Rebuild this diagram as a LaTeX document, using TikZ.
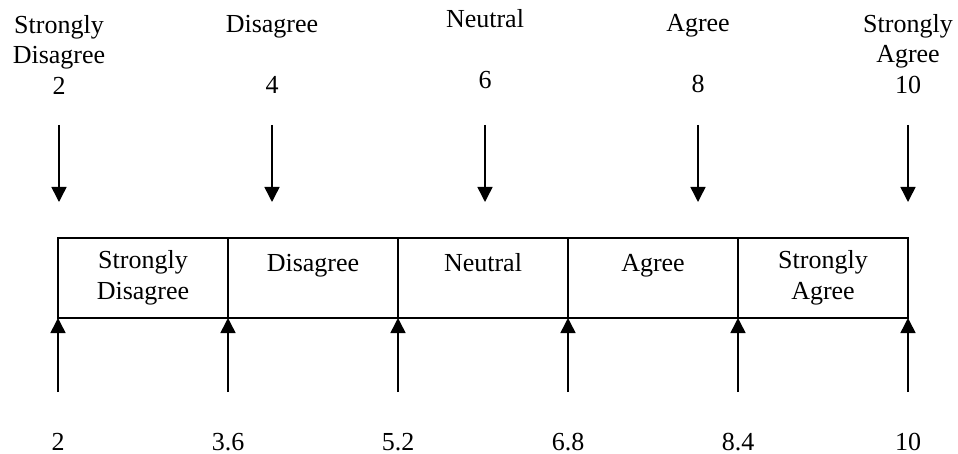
\documentclass[tikz,border=0pt]{standalone}
\usepackage{fontspec}
\setmainfont{Liberation Serif}
\usetikzlibrary{arrows.meta}

\begin{document}
\begin{tikzpicture}[x=1pt,y=1pt,
  lbl/.style={align=center,inner sep=0pt,font=\fontsize{26}{30.5}\selectfont},
  cell/.style={lbl,draw,line width=1.6pt,outer sep=0pt,minimum width=170pt,minimum height=80pt,anchor=north west},
  arr/.style={line width=1.5pt,-{Triangle[width=15pt,length=15pt]}}]
\useasboundingbox (0,0) rectangle (958,-454);
% labels above the arrows
\node[lbl,anchor=north] (t1) at (59,-15) {Strongly\\Disagree\\2};
\node[lbl,anchor=north] (t2) at (272,-15) {Disagree\\~\\4};
\node[lbl,anchor=north] (t3) at (485,-9) {Neutral\\~\\6};
\node[lbl,anchor=north] (t4) at (698,-14) {Agree\\~\\8};
\node[lbl,anchor=north] (t5) at (908,-14) {Strongly\\Agree\\10};
% arrows down to the scale
\coordinate (d1) at (59,-125); \coordinate (e1) at (59,-202);
\coordinate (d2) at (272,-125); \coordinate (e2) at (272,-202);
\coordinate (d3) at (485,-125); \coordinate (e3) at (485,-202);
\coordinate (d4) at (698,-125); \coordinate (e4) at (698,-202);
\coordinate (d5) at (908,-125); \coordinate (e5) at (908,-202);
\draw[arr] (d1) -- (e1);
\draw[arr] (d2) -- (e2);
\draw[arr] (d3) -- (e3);
\draw[arr] (d4) -- (e4);
\draw[arr] (d5) -- (e5);
% the scale
\node[cell] (c1) at (58,-238) {Strongly\\Disagree};
\node[cell] (c2) at (228,-238) {Disagree\\~};
\node[cell] (c3) at (398,-238) {Neutral\\~};
\node[cell] (c4) at (568,-238) {Agree\\~};
\node[cell] (c5) at (738,-238) {Strongly\\Agree};
% arrows up to the cell borders
\coordinate (u1) at (58,-392);
\coordinate (u2) at (228,-392);
\coordinate (u3) at (398,-392);
\coordinate (u4) at (568,-392);
\coordinate (u5) at (738,-392);
\coordinate (u6) at (908,-392);
\draw[arr] (u1) -- (c1.south west);
\draw[arr] (u2) -- (c2.south west);
\draw[arr] (u3) -- (c3.south west);
\draw[arr] (u4) -- (c4.south west);
\draw[arr] (u5) -- (c5.south west);
\draw[arr] (u6) -- (c5.south east);
% values below
\node[lbl,anchor=base] (v1) at (58,-450) {2};
\node[lbl,anchor=base] (v2) at (228,-450) {3.6};
\node[lbl,anchor=base] (v3) at (398,-450) {5.2};
\node[lbl,anchor=base] (v4) at (568,-450) {6.8};
\node[lbl,anchor=base] (v5) at (738,-450) {8.4};
\node[lbl,anchor=base] (v6) at (908,-450) {10};
\end{tikzpicture}
\end{document}
